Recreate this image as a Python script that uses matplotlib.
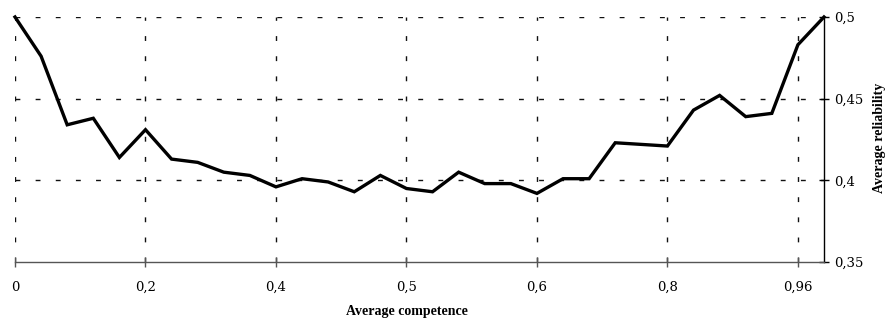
import numpy as np
import matplotlib
matplotlib.use("Agg")
import matplotlib.pyplot as plt

# average reliability per step of average competence (32 points)
reliability = [0.500, 0.476, 0.434, 0.438, 0.414, 0.431, 0.413, 0.411,
               0.405, 0.403, 0.396, 0.401, 0.399, 0.393, 0.403, 0.395,
               0.393, 0.405, 0.398, 0.398, 0.392, 0.401, 0.401, 0.423,
               0.422, 0.421, 0.443, 0.452, 0.439, 0.441, 0.483, 0.500]
steps = np.arange(len(reliability))

# x tick labels sit every 5 steps
xtick_pos = [0, 5, 10, 15, 20, 25, 30]
xtick_labels = ['0', '0,2', '0,4', '0,5', '0,6', '0,8', '0,96']
ytick_pos = [0.35, 0.40, 0.45, 0.50]
ytick_labels = ['0,35', '0,4', '0,45', '0,5']

W, H = 888, 320
fig = plt.figure(figsize=(W / 100, H / 100), dpi=100)
ax = fig.add_axes([15 / W, 1 - 262 / H, (824 - 15) / W, (262 - 17) / H])

ax.plot(steps, reliability, color='black', lw=2.4, clip_on=False, zorder=3,
        solid_joinstyle='miter')

ax.set_xlim(0, len(reliability) - 1)
ax.set_ylim(0.35, 0.5)

# dashed grid
dash = (0, (3.5, 11))
for x in xtick_pos:
    ax.axvline(x, color='#111111', lw=1.0, ls=dash, zorder=1)
for y in ytick_pos[1:]:
    ax.axhline(y, color='#111111', lw=1.0, ls=dash, zorder=1)

for s in ['left', 'top']:
    ax.spines[s].set_visible(False)
ax.spines['bottom'].set_color('#555555')
ax.spines['bottom'].set_linewidth(1.0)
ax.spines['right'].set_color('black')
ax.spines['right'].set_linewidth(1.0)

ax.set_xticks(xtick_pos)
ax.set_xticklabels(xtick_labels, family='DejaVu Serif', fontsize=9.5)
ax.tick_params(axis='x', direction='inout', length=7, width=1.0,
               color='#555555', pad=10)

ax.yaxis.tick_right()
ax.set_yticks(ytick_pos)
ax.set_yticklabels(ytick_labels, family='DejaVu Serif', fontsize=9.5)
ax.tick_params(axis='y', direction='inout', length=7, width=1.0,
               color='black', pad=4)

fig.text(407 / W, 1 - 312 / H, 'Average competence', ha='center', va='center',
         family='Liberation Serif', fontweight='bold', fontsize=10)
fig.text(879 / W, 1 - 138 / H, 'Average reliability', ha='center', va='center',
         rotation=90, family='Liberation Serif', fontweight='bold', fontsize=10)

fig.savefig('out.png', dpi=100)
